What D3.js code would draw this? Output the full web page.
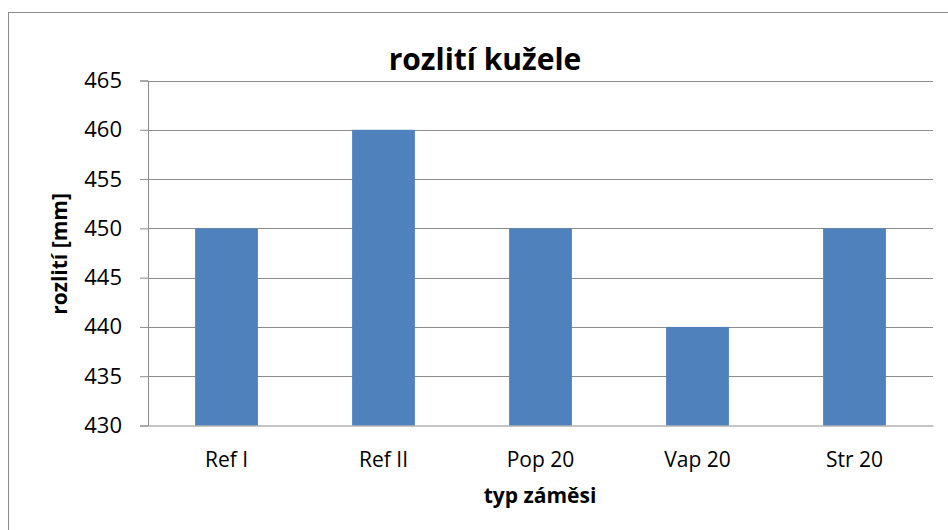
<!DOCTYPE html>
<html>
<head>
<meta charset="utf-8">
<script src="https://cdn.jsdelivr.net/npm/d3@7"></script>
<style>
  html, body { margin: 0; padding: 0; background: #fff; }
  svg { display: block; font-family: "Open Sans", Lato, sans-serif; }
</style>
</head>
<body>
<svg id="chart" width="948" height="530"></svg>
<script>
// data
var categories = ["Ref I", "Ref II", "Pop 20", "Vap 20", "Str 20"];
var values = [450, 460, 450, 440, 450];
var yTicks = [430, 435, 440, 445, 450, 455, 460, 465];

var font = '"Open Sans", Lato, sans-serif';
var svg = d3.select("#chart");

// outer chart border (runs off the right/bottom edge)
svg.append("rect")
  .attr("x", 8.5).attr("y", 12.5)
  .attr("width", 960).attr("height", 540)
  .attr("fill", "#fff")
  .attr("stroke", "#8c8c8c")
  .attr("stroke-width", 1);

var plot = { left: 148, right: 933, top: 80.5, bottom: 425.5 };

var x = d3.scaleBand()
  .domain(categories)
  .range([plot.left, plot.right])
  .paddingInner(0.6)
  .paddingOuter(0.3);

var y = d3.scaleLinear()
  .domain([430, 465])
  .range([plot.bottom, plot.top]);

// gridlines + y ticks
var yAxis = svg.append("g")
  .attr("transform", "translate(" + plot.left + ",0)")
  .call(d3.axisLeft(y).tickValues(yTicks).tickSize(8).tickPadding(18).tickFormat(d3.format("d")));
yAxis.attr("font-family", font);
yAxis.select(".domain").attr("stroke", "#8c8c8c");
yAxis.selectAll(".tick line").attr("stroke", "#8c8c8c");
yAxis.selectAll(".tick text").attr("font-size", 22).attr("fill", "#000");

svg.append("g")
  .selectAll("line")
  .data(yTicks.slice(1))
  .join("line")
  .attr("x1", plot.left).attr("x2", plot.right)
  .attr("y1", function (d) { return Math.round(y(d)) + 0.5; })
  .attr("y2", function (d) { return Math.round(y(d)) + 0.5; })
  .attr("stroke", "#8c8c8c")
  .attr("stroke-width", 1.2);

// bars
svg.append("g")
  .selectAll("rect")
  .data(values)
  .join("rect")
  .attr("x", function (d, i) { return x(categories[i]); })
  .attr("width", x.bandwidth())
  .attr("y", function (d) { return y(d); })
  .attr("height", function (d) { return y(430) - y(d); })
  .attr("fill", "#4f81bd");

// x axis
var xAxis = svg.append("g")
  .attr("transform", "translate(0," + plot.bottom + ")")
  .call(d3.axisBottom(x).tickSize(0).tickPadding(27));
xAxis.attr("font-family", font);
xAxis.select(".domain").attr("stroke", "#8c8c8c").attr("stroke-width", 1.2);
xAxis.selectAll(".tick text").attr("font-size", 21).attr("fill", "#000");

// titles
svg.append("text")
  .attr("x", 485).attr("y", 70)
  .attr("text-anchor", "middle")
  .attr("font-size", 30).attr("font-weight", "bold")
  .text("rozlití kužele");

svg.append("text")
  .attr("x", 540).attr("y", 503)
  .attr("text-anchor", "middle")
  .attr("font-size", 21).attr("font-weight", "bold")
  .text("typ záměsi");

svg.append("text")
  .attr("transform", "translate(67,254) rotate(-90)")
  .attr("text-anchor", "middle")
  .attr("font-size", 21).attr("font-weight", "bold")
  .text("rozlití [mm]");
</script>
</body>
</html>
